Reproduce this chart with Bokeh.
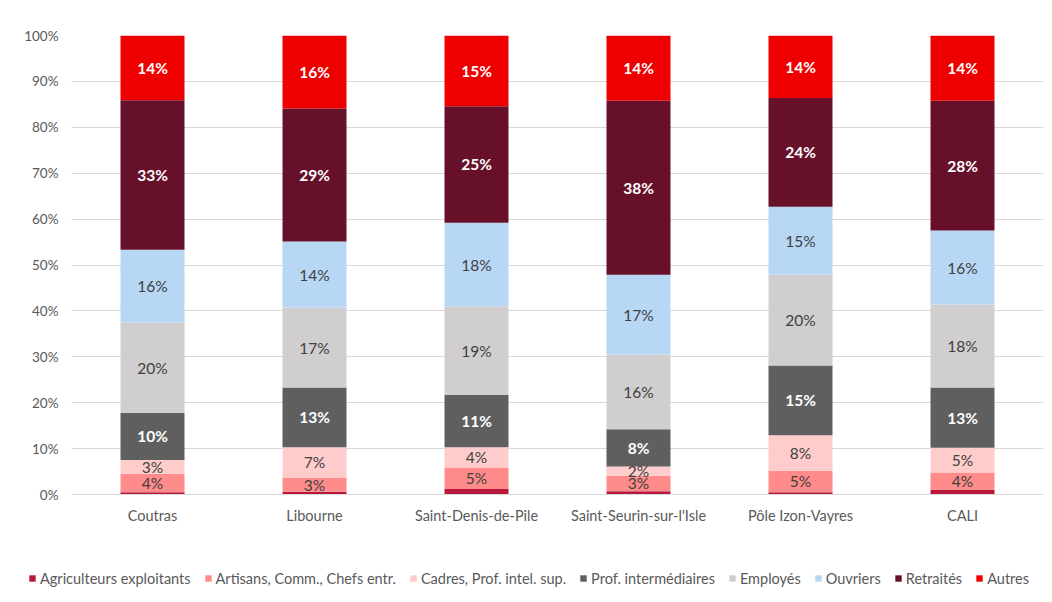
from bokeh.plotting import figure
from bokeh.layouts import column, row
from bokeh.models import ColumnDataSource, Legend, LegendItem, PrintfTickFormatter, FactorRange
from bokeh.core.properties import value
from bokeh.embed import file_html
from bokeh.resources import INLINE

communes = ["Coutras", "Libourne", "Saint-Denis-de-Pile", "Saint-Seurin-sur-l'Isle",
            "Pôle Izon-Vayres", "CALI"]
categories = ["Agriculteurs exploitants", "Artisans, Comm., Chefs entr.",
              "Cadres, Prof. intel. sup.", "Prof. intermédiaires", "Employés",
              "Ouvriers", "Retraités", "Autres"]

agriculteurs = [0.5, 0.6, 1.2, 0.7, 0.5, 1.0]
artisans = [4.0, 3.1, 4.7, 3.4, 4.7, 3.8]
cadres = [3.0, 6.6, 4.4, 2.0, 7.7, 5.4]
prof_inter = [10.3, 13.0, 11.4, 8.1, 15.2, 13.1]
employes = [19.7, 17.4, 19.3, 16.3, 19.8, 18.1]
ouvriers = [15.8, 14.4, 18.2, 17.4, 14.8, 16.1]
retraites = [32.6, 29.0, 25.4, 37.9, 23.7, 28.3]
autres = [14.1, 15.9, 15.4, 14.2, 13.6, 14.2]

series = [agriculteurs, artisans, cadres, prof_inter, employes, ouvriers, retraites, autres]
colors = ["#B8183C", "#FF8B8B", "#FFCCCC", "#5F5F5F", "#D0CECE", "#B8D7F5", "#661129", "#EE0000"]
label_white = [False, False, False, True, False, False, True, True]
show_label = [False, True, True, True, True, True, True, True]

FONT = "Lato"

keys = ["s%d" % i for i in range(len(series))]
data = {"commune": communes}
for k, s in zip(keys, series):
    data[k] = s
source = ColumnDataSource(data)

p = figure(x_range=FactorRange(*communes), y_range=(0, 100),
           width=1050, height=545, output_backend="svg", toolbar_location=None,
           min_border_left=71, min_border_right=7, min_border_top=35, min_border_bottom=51)

renderers = p.vbar_stack(keys, x="commune", width=0.395, color=colors, source=source,
                         line_color=None)

# data labels
for si, s in enumerate(series):
    if not show_label[si]:
        continue
    xs, ys, txt = [], [], []
    for ci, c in enumerate(communes):
        base = sum(series[j][ci] for j in range(si))
        xs.append(c)
        ys.append(base + s[ci] / 2.0)
        txt.append("%d%%" % round(s[ci]))
    src = ColumnDataSource(dict(x=xs, y=ys, t=txt))
    p.text(x="x", y="y", text="t", source=src, text_align="center", text_baseline="middle",
           text_font=value(FONT), text_font_size="15.5px",
           text_color="#FFFFFF" if label_white[si] else "#404040",
           text_font_style="bold" if label_white[si] else "normal")

p.yaxis.formatter = PrintfTickFormatter(format="%d%%")
p.yaxis.ticker = list(range(0, 101, 10))
p.yaxis.axis_line_color = None
p.yaxis.major_tick_line_color = None
p.yaxis.minor_tick_line_color = None
p.yaxis.major_tick_out = 0
p.yaxis.major_label_standoff = 13
p.yaxis.major_label_text_font_size = "13.5px"
p.xaxis.axis_line_color = "#D9D9D9"
p.xaxis.major_tick_line_color = None
p.xaxis.major_tick_out = 0
p.xaxis.major_label_standoff = 12
p.xaxis.major_label_text_font_size = "14.5px"
for ax in (p.xaxis, p.yaxis):
    ax.major_label_text_font = FONT
    ax.major_label_text_color = "#595959"

p.xgrid.grid_line_color = None
p.ygrid.grid_line_color = "#D9D9D9"
p.outline_line_color = None

# legend strip (same series, drawn out of view so only the legend shows)
pl = figure(x_range=FactorRange(*communes), y_range=(1000, 1100),
            width=1050, height=55, output_backend="svg", toolbar_location=None,
            x_axis_type=None, y_axis_type=None,
            min_border_left=0, min_border_right=0, min_border_top=0, min_border_bottom=0)
pl.grid.visible = False
pl.outline_line_color = None
leg_renderers = pl.vbar_stack(keys, x="commune", width=0.395, color=colors, source=source,
                              line_color=None)
items = [LegendItem(label=cat, renderers=[r]) for cat, r in zip(categories, leg_renderers)]
legend = Legend(items=items, orientation="horizontal", location=(28, 12),
                glyph_width=8, glyph_height=8, label_standoff=4, spacing=13,
                padding=0, margin=0, label_height=20,
                label_text_font=FONT, label_text_font_size="14.5px", label_text_color="#595959",
                background_fill_alpha=0, border_line_color=None)
pl.add_layout(legend, "center")

layout = column(p, row(pl), spacing=0)
open("out.html", "w").write(file_html(layout, INLINE))
